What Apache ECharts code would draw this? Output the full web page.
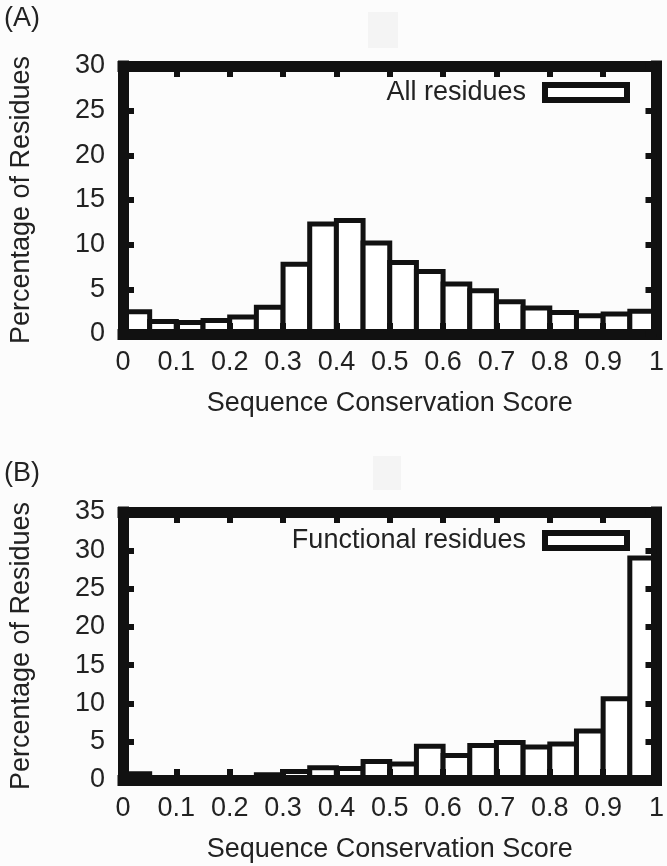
<!DOCTYPE html>
<html>
<head>
<meta charset="utf-8">
<script src="https://cdn.jsdelivr.net/npm/echarts@6/dist/echarts.min.js"></script>
<style>
  html, body { margin: 0; padding: 0; background: #fcfcfc; }
  #chart { width: 667px; height: 866px; }
</style>
</head>
<body>
<div id="chart"></div>
<script>
// bin edges of the histograms (score)
const binEdges = [0, 0.05, 0.1, 0.15, 0.2, 0.25, 0.3, 0.35, 0.4, 0.45, 0.5,
  0.55, 0.6, 0.65, 0.7, 0.75, 0.8, 0.85, 0.9, 0.95, 1]
// percentage of residues per bin
const allResidues = [2.5, 1.4, 1.3, 1.5, 1.9, 3.0, 7.8, 12.3, 12.7, 10.2,
  8.0, 7.0, 5.6, 4.85, 3.6, 2.9, 2.4, 2.05, 2.25, 2.55]
const functionalResidues = [0.8, 0.2, 0.2, 0.2, 0.3, 0.7, 1.1, 1.6, 1.5, 2.4,
  2.1, 4.4, 3.2, 4.5, 4.9, 4.3, 4.7, 6.4, 10.6, 29]
const xTicks = [0, 1, 0.1]
const yTicksA = [0, 30, 5]
const yTicksB = [0, 35, 5]

const FONT = 'Liberation Sans, Arial, sans-serif'
const FS = 27
const INK = '#111'
const TEXT = '#222'

function toBins(values) {
  return values.map((v, i) => [binEdges[i], binEdges[i + 1], v])
}

function renderHist(params, api) {
  const p0 = api.coord([api.value(0), 0])
  const p1 = api.coord([api.value(1), api.value(2)])
  return {
    type: 'rect',
    shape: { x: p0[0], y: p1[1], width: p1[0] - p0[0], height: p0[1] - p1[1] },
    style: { fill: '#fff', stroke: INK, lineWidth: 5 }
  }
}

function frameAxis(extra) {
  return Object.assign({
    type: 'value',
    z: 10,
    axisLine: { show: true, onZero: false, lineStyle: { color: INK, width: 11, cap: 'square' } },
    axisTick: { show: true, inside: true, length: 11, lineStyle: { color: INK, width: 6 } },
    splitLine: { show: false },
    axisLabel: { show: false }
  }, extra)
}

function xAxes(grid) {
  return [
    frameAxis({
      gridIndex: grid, position: 'bottom', min: xTicks[0], max: xTicks[1], interval: xTicks[2],
      axisLabel: { show: true, margin: 15, fontSize: FS, color: TEXT, fontFamily: FONT },
      name: 'Sequence Conservation Score', nameLocation: 'middle', nameGap: 56,
      nameTextStyle: { fontSize: FS, color: TEXT, fontFamily: FONT }
    }),
    frameAxis({ gridIndex: grid, position: 'top', min: xTicks[0], max: xTicks[1], interval: xTicks[2] })
  ]
}

function yAxes(grid, ticks) {
  return [
    frameAxis({
      gridIndex: grid, position: 'left', min: ticks[0], max: ticks[1], interval: ticks[2],
      axisLabel: { show: true, margin: 18, fontSize: FS, color: TEXT, fontFamily: FONT },
      name: 'Percentage of Residues', nameLocation: 'middle', nameGap: 88,
      nameTextStyle: { fontSize: FS, color: TEXT, fontFamily: FONT }
    }),
    frameAxis({ gridIndex: grid, position: 'right', min: ticks[0], max: ticks[1], interval: ticks[2] })
  ]
}

function legendFor(name, top) {
  return {
    data: [{ name: name, icon: 'rect', itemStyle: { color: '#fff', borderColor: INK, borderWidth: 6 } }],
    right: 37,
    top: top,
    padding: 0,
    align: 'right',
    itemWidth: 82,
    itemHeight: 15,
    textStyle: { fontSize: FS, color: TEXT, fontFamily: FONT, padding: [0, 14, 0, 0] }
  }
}

const chart = echarts.init(document.getElementById('chart'))
chart.setOption({
  backgroundColor: '#fcfcfc',
  animation: false,
  grid: [
    { left: 121, right: 6, top: 66, height: 268 },
    { left: 121, right: 6, top: 512, height: 268 }
  ],
  xAxis: [...xAxes(0), ...xAxes(1)],
  yAxis: [...yAxes(0, yTicksA), ...yAxes(1, yTicksB)],
  legend: [legendFor('All residues', 79), legendFor('Functional residues', 527)],
  graphic: [
    { type: 'text', left: 4, top: 5, style: { text: '(A)', fontSize: FS, fill: TEXT, fontFamily: FONT } },
    { type: 'text', left: 4, top: 460, style: { text: '(B)', fontSize: FS, fill: TEXT, fontFamily: FONT } },
    { type: 'rect', left: 368, top: 12, shape: { width: 30, height: 36 }, style: { fill: '#f4f4f4' }, z: -1 },
    { type: 'rect', left: 373, top: 456, shape: { width: 28, height: 34 }, style: { fill: '#f4f4f4' }, z: -1 }
  ],
  series: [
    {
      name: 'All residues', type: 'custom', xAxisIndex: 0, yAxisIndex: 0,
      renderItem: renderHist, encode: { x: [0, 1], y: 2 }, data: toBins(allResidues),
      itemStyle: { color: '#fff', borderColor: INK, borderWidth: 6 }
    },
    {
      name: 'Functional residues', type: 'custom', xAxisIndex: 2, yAxisIndex: 2,
      renderItem: renderHist, encode: { x: [0, 1], y: 2 }, data: toBins(functionalResidues),
      itemStyle: { color: '#fff', borderColor: INK, borderWidth: 6 }
    }
  ]
})
</script>
</body>
</html>
